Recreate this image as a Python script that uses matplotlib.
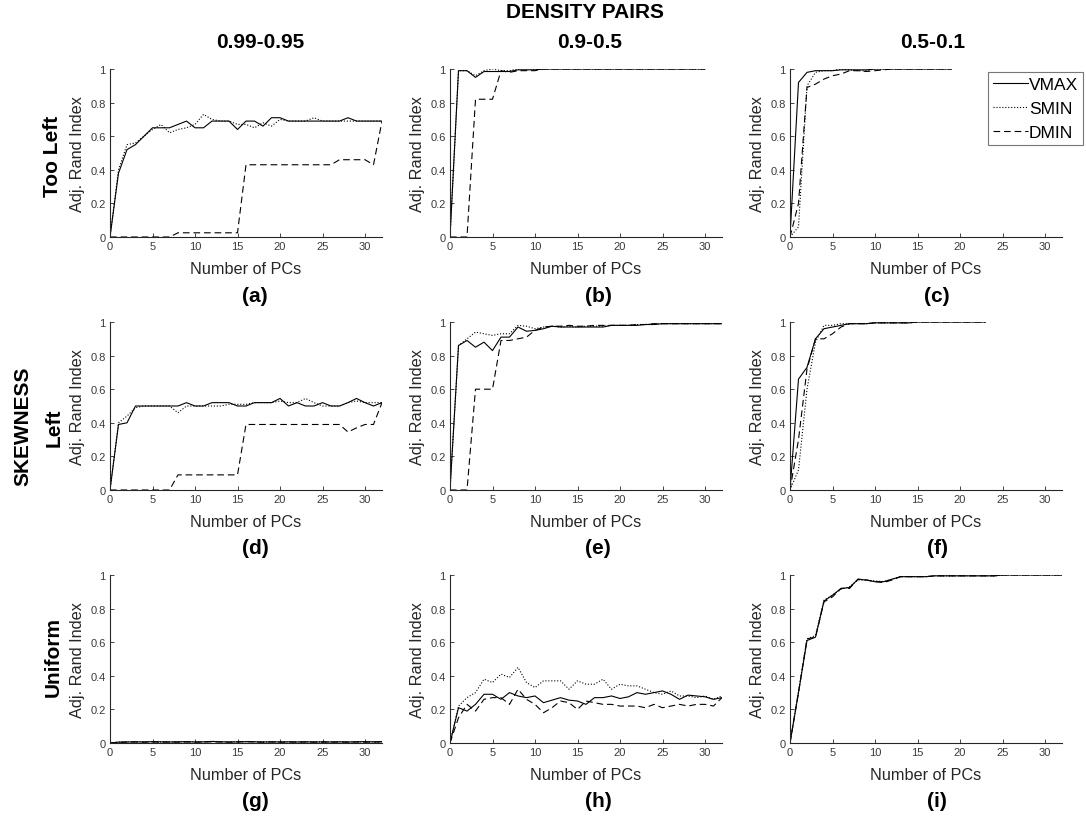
import numpy as np
import matplotlib
matplotlib.use("Agg")
import matplotlib.pyplot as plt

plt.rcParams['font.family'] = ['Liberation Sans', 'DejaVu Sans']

W, H = 1086, 820

# column / row labels
density_pairs = ['0.99-0.95', '0.9-0.5', '0.5-0.1']
skew_rows = ['Too Left', 'Left', 'Uniform']
panel_tags = ['(a)', '(b)', '(c)', '(d)', '(e)', '(f)', '(g)', '(h)', '(i)']
methods = ['VMAX', 'SMIN', 'DMIN']

# (a) too left, 0.99-0.95
a_vmax = [0, 0.38, 0.52, 0.55, 0.60, 0.65, 0.65, 0.65, 0.67, 0.69, 0.65, 0.65, 0.69, 0.69, 0.69, 0.64, 0.69,
          0.69, 0.66, 0.71, 0.71, 0.69, 0.69, 0.69, 0.69, 0.69, 0.69, 0.69, 0.71, 0.69, 0.69, 0.69, 0.69]
a_smin = [0, 0.40, 0.55, 0.56, 0.60, 0.64, 0.67, 0.62, 0.64, 0.65, 0.67, 0.73, 0.70, 0.69, 0.69, 0.67, 0.67,
          0.65, 0.68, 0.66, 0.70, 0.69, 0.69, 0.69, 0.71, 0.69, 0.69, 0.69, 0.69, 0.69, 0.69, 0.69, 0.69]
a_dmin = [0, 0, 0, 0, 0, 0, 0, 0, 0.025, 0.025, 0.025, 0.025, 0.025, 0.025, 0.025, 0.025, 0.43,
          0.43, 0.43, 0.43, 0.43, 0.43, 0.43, 0.43, 0.43, 0.43, 0.43, 0.46, 0.46, 0.46, 0.46, 0.43, 0.69]

# (b) too left, 0.9-0.5 (only 30 PCs)
b_vmax = [0, 0.99, 0.99, 0.95, 0.985, 0.985, 0.985, 0.985, 0.995, 0.995, 0.995, 1, 1, 1, 1, 1,
          1, 1, 1, 1, 1, 1, 1, 1, 1, 1, 1, 1, 1, 1, 1]
b_smin = [0, 0.99, 0.99, 0.96, 0.99, 1.0, 0.99, 0.99, 1, 1, 1, 1, 1, 1, 1, 1,
          1, 1, 1, 1, 1, 1, 1, 1, 1, 1, 1, 1, 1, 1, 1]
b_dmin = [0, 0, 0, 0.82, 0.82, 0.82, 0.99, 0.98, 0.99, 0.99, 0.99, 1, 1, 1, 1, 1,
          1, 1, 1, 1, 1, 1, 1, 1, 1, 1, 1, 1, 1, 1, 1]

# (c) too left, 0.5-0.1 (only 19 PCs)
c_vmax = [0, 0.92, 0.98, 0.99, 0.99, 0.99, 0.995, 0.995, 0.995, 0.995, 1, 1, 1, 1, 1, 1, 1, 1, 1, 1]
c_smin = [0, 0.06, 0.90, 0.98, 0.99, 0.99, 1.0, 0.995, 0.99, 0.99, 1, 1, 1, 1, 1, 1, 1, 1, 1, 1]
c_dmin = [0, 0.20, 0.89, 0.91, 0.94, 0.96, 0.97, 0.99, 0.99, 0.985, 0.99, 0.995, 1, 1, 1, 1, 1, 1, 1, 1]

# (d) left, 0.99-0.95
d_vmax = [0, 0.39, 0.40, 0.50, 0.50, 0.50, 0.50, 0.50, 0.50, 0.52, 0.50, 0.50, 0.52, 0.52, 0.52, 0.50, 0.50,
          0.52, 0.52, 0.52, 0.545, 0.50, 0.52, 0.50, 0.50, 0.52, 0.50, 0.50, 0.52, 0.545, 0.52, 0.50, 0.52]
d_smin = [0, 0.40, 0.44, 0.49, 0.50, 0.50, 0.50, 0.50, 0.46, 0.50, 0.50, 0.50, 0.50, 0.50, 0.51, 0.51, 0.51,
          0.52, 0.52, 0.52, 0.53, 0.52, 0.52, 0.545, 0.52, 0.50, 0.50, 0.50, 0.52, 0.53, 0.52, 0.52, 0.52]
d_dmin = [0, 0, 0, 0, 0, 0, 0, 0, 0.09, 0.09, 0.09, 0.09, 0.09, 0.09, 0.09, 0.09, 0.39,
          0.39, 0.39, 0.39, 0.39, 0.39, 0.39, 0.39, 0.39, 0.39, 0.39, 0.39, 0.345, 0.37, 0.39, 0.39, 0.52]

# (e) left, 0.9-0.5
e_vmax = [0, 0.86, 0.89, 0.85, 0.88, 0.83, 0.91, 0.91, 0.97, 0.945, 0.95, 0.96, 0.975, 0.97, 0.97, 0.97, 0.97,
          0.97, 0.97, 0.98, 0.98, 0.98, 0.98, 0.985, 0.985, 0.99, 0.99, 0.99, 0.99, 0.99, 0.99, 0.99, 0.99]
e_smin = [0, 0.86, 0.90, 0.94, 0.93, 0.92, 0.93, 0.93, 0.98, 0.975, 0.96, 0.97, 0.975, 0.97, 0.975, 0.97, 0.975,
          0.975, 0.975, 0.98, 0.98, 0.98, 0.985, 0.985, 0.99, 0.99, 0.99, 0.99, 0.99, 0.99, 0.99, 0.99, 0.99]
e_dmin = [0, 0, 0, 0.60, 0.60, 0.60, 0.89, 0.89, 0.90, 0.91, 0.95, 0.97, 0.975, 0.975, 0.98, 0.975, 0.975,
          0.98, 0.98, 0.98, 0.98, 0.98, 0.985, 0.985, 0.99, 0.99, 0.99, 0.99, 0.99, 0.99, 0.99, 0.99, 0.99]

# (f) left, 0.5-0.1 (only 23 PCs)
f_vmax = [0, 0.66, 0.73, 0.90, 0.96, 0.97, 0.98, 0.99, 0.99, 0.99, 0.995, 0.995, 0.995, 0.995, 0.995,
          1, 1, 1, 1, 1, 1, 1, 1, 1]
f_smin = [0, 0.12, 0.60, 0.88, 0.98, 0.98, 0.99, 0.99, 0.99, 0.99, 0.995, 0.995, 0.995, 0.995, 0.995,
          1, 1, 1, 1, 1, 1, 1, 1, 1]
f_dmin = [0, 0.30, 0.72, 0.90, 0.90, 0.93, 0.97, 0.99, 0.99, 0.99, 0.995, 0.995, 0.995, 0.995, 0.995,
          1, 1, 1, 1, 1, 1, 1, 1, 1]

# (g) uniform, 0.99-0.95
g_vmax = [0, 0.005, 0.006, 0.007, 0.006, 0.008, 0.007, 0.006, 0.007, 0.008, 0.006, 0.007, 0.009, 0.007, 0.006,
          0.007, 0.008, 0.007, 0.006, 0.007, 0.006, 0.007, 0.006, 0.007, 0.006, 0.007, 0.006, 0.007, 0.006,
          0.007, 0.008, 0.007, 0.008]
g_smin = [0, 0.006, 0.007, 0.006, 0.008, 0.007, 0.006, 0.007, 0.006, 0.007, 0.008, 0.006, 0.010, 0.008, 0.007,
          0.006, 0.007, 0.008, 0.006, 0.007, 0.007, 0.006, 0.007, 0.006, 0.007, 0.006, 0.007, 0.006, 0.007,
          0.006, 0.007, 0.006, 0.007]
g_dmin = [0, 0.004, 0.005, 0.006, 0.005, 0.006, 0.005, 0.006, 0.005, 0.006, 0.005, 0.006, 0.007, 0.006, 0.005,
          0.006, 0.009, 0.006, 0.005, 0.006, 0.005, 0.006, 0.005, 0.006, 0.005, 0.006, 0.005, 0.006, 0.005,
          0.006, 0.005, 0.006, 0.006]

# (h) uniform, 0.9-0.5
h_vmax = [0, 0.21, 0.19, 0.23, 0.29, 0.29, 0.26, 0.30, 0.28, 0.27, 0.28, 0.24, 0.255, 0.27, 0.255, 0.25, 0.23,
          0.27, 0.27, 0.28, 0.265, 0.275, 0.30, 0.29, 0.30, 0.31, 0.29, 0.26, 0.285, 0.28, 0.275, 0.26, 0.27]
h_smin = [0, 0.22, 0.27, 0.30, 0.38, 0.36, 0.41, 0.39, 0.45, 0.36, 0.33, 0.37, 0.37, 0.37, 0.32, 0.37, 0.35,
          0.35, 0.38, 0.32, 0.35, 0.34, 0.34, 0.32, 0.30, 0.29, 0.31, 0.28, 0.28, 0.27, 0.28, 0.26, 0.28]
h_dmin = [0, 0.15, 0.23, 0.19, 0.26, 0.27, 0.27, 0.23, 0.32, 0.26, 0.23, 0.18, 0.21, 0.25, 0.24, 0.20, 0.25,
          0.24, 0.23, 0.23, 0.22, 0.22, 0.22, 0.21, 0.23, 0.21, 0.22, 0.23, 0.22, 0.23, 0.23, 0.22, 0.27]

# (i) uniform, 0.5-0.1
i_vmax = [0, 0.30, 0.61, 0.63, 0.845, 0.88, 0.92, 0.925, 0.975, 0.97, 0.96, 0.96, 0.975, 0.99, 0.99, 0.99,
          0.99, 0.995, 0.995, 0.995, 0.995, 0.995, 0.995, 0.995, 0.995, 1, 1, 1, 1, 1, 1, 1, 1]
i_smin = [0, 0.31, 0.62, 0.64, 0.85, 0.88, 0.915, 0.93, 0.97, 0.97, 0.965, 0.96, 0.975, 0.99, 0.99, 0.99,
          0.99, 0.995, 0.995, 0.995, 0.995, 0.995, 0.995, 0.995, 0.995, 1, 1, 1, 1, 1, 1, 1, 1]
i_dmin = [0, 0.30, 0.62, 0.63, 0.84, 0.87, 0.92, 0.92, 0.975, 0.97, 0.96, 0.955, 0.97, 0.99, 0.99, 0.99,
          0.99, 0.995, 0.995, 0.995, 0.995, 0.995, 0.995, 0.995, 0.995, 1, 1, 1, 1, 1, 1, 1, 1]

panels = [
    (a_vmax, a_smin, a_dmin), (b_vmax, b_smin, b_dmin), (c_vmax, c_smin, c_dmin),
    (d_vmax, d_smin, d_dmin), (e_vmax, e_smin, e_dmin), (f_vmax, f_smin, f_dmin),
    (g_vmax, g_smin, g_dmin), (h_vmax, h_smin, h_dmin), (i_vmax, i_smin, i_dmin),
]

styles = ['-', ':', (0, (6, 3.5))]
axcol = '#262626'

fig = plt.figure(figsize=(W / 100, H / 100), dpi=100)

def fx(px):
    return px / W

def fy(py):
    return 1 - py / H

lefts = [110, 450, 790]
tops = [70, 323, 576]
aw, ah = 272, 168

axes = []
for r in range(3):
    for c in range(3):
        ax = fig.add_axes([fx(lefts[c]), fy(tops[r] + ah), aw / W, ah / H])
        for vals, ls, name in zip(panels[3 * r + c], styles, methods):
            x = np.arange(len(vals))
            ax.plot(x, vals, color='black', lw=0.8, linestyle=ls, label=name)
        ax.set_xlim(0, 32)
        ax.set_ylim(0, 1)
        ax.set_xticks([0, 5, 10, 15, 20, 25, 30])
        ax.set_yticks([0, 0.2, 0.4, 0.6, 0.8, 1])
        ax.set_yticklabels(['0', '0.2', '0.4', '0.6', '0.8', '1'])
        ax.spines['top'].set_visible(False)
        ax.spines['right'].set_visible(False)
        for s in ['left', 'bottom']:
            ax.spines[s].set_color(axcol)
            ax.spines[s].set_linewidth(0.8)
        ax.tick_params(direction='in', length=3, width=0.6, colors=axcol,
                       labelsize=8, labelcolor='#3a3a3a', pad=3)
        ax.set_xlabel('Number of PCs', fontsize=11.7, color='#262626')
        ax.set_ylabel('Adj. Rand Index', fontsize=11.7, color='#262626')
        ax.xaxis.set_label_coords(0.5, -24 / ah)
        ax.yaxis.set_label_coords(-25 / aw, 0.5)
        tag_x = [255, 598, 937][c]
        fig.text(fx(tag_x), fy(tops[r] + ah + 58), panel_tags[3 * r + c],
                 ha='center', va='center', fontsize=15, fontweight='bold')
        axes.append(ax)

fig.text(fx(585), fy(12), 'DENSITY PAIRS', ha='center', va='center', fontsize=15, fontweight='bold')
for c, title_x in enumerate([260, 590, 933]):
    fig.text(fx(title_x), fy(43), density_pairs[c], ha='center', va='center',
             fontsize=15, fontweight='bold')

fig.text(fx(53), fy(156), skew_rows[0], rotation=90, ha='center', va='center', fontsize=15, fontweight='bold')
fig.text(fx(23), fy(426), 'SKEWNESS', rotation=90, ha='center', va='center', fontsize=15, fontweight='bold')
fig.text(fx(54), fy(428), skew_rows[1], rotation=90, ha='center', va='center', fontsize=15, fontweight='bold')
fig.text(fx(53), fy(657), skew_rows[2], rotation=90, ha='center', va='center', fontsize=15, fontweight='bold')

# legend sits in the top-right panel but spills past its right edge
leg = axes[2].legend(loc='upper left', bbox_to_anchor=(fx(988), fy(73)), bbox_transform=fig.transFigure,
                     fontsize=12.5, frameon=True, fancybox=False, edgecolor='#555555',
                     handlelength=2.0, handletextpad=0.05, borderpad=0.3, labelspacing=0.5,
                     borderaxespad=0)
leg.get_frame().set_linewidth(0.8)

fig.savefig('out.png', dpi=100)
